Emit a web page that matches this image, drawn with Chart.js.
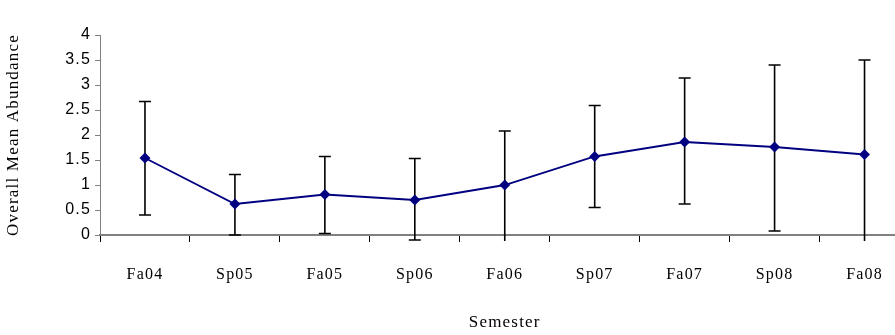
<!DOCTYPE html>
<html>
<head>
<meta charset="utf-8">
<script src="https://cdn.jsdelivr.net/npm/chart.js@4.4.1/dist/chart.umd.min.js"></script>
<style>
  html, body { margin: 0; padding: 0; overflow: hidden; background: #fff; }
  #wrap { width: 915px; height: 335px; }
</style>
</head>
<body>
<div id="wrap"><canvas id="chart-abundance" width="915" height="335"></canvas></div>
<script>
var semesters = ['Fa04', 'Sp05', 'Fa05', 'Sp06', 'Fa06', 'Sp07', 'Fa07', 'Sp08', 'Fa08'];
var meanAbundance = [1.54, 0.62, 0.81, 0.70, 1.00, 1.57, 1.86, 1.76, 1.61];
var errorHigh = [2.67, 1.21, 1.57, 1.53, 2.08, 2.59, 3.14, 3.40, 3.50];
var errorLow = [0.40, 0.00, 0.03, -0.10, -0.16, 0.55, 0.62, 0.08, -0.30];
var yTicks = ['0', '0.5', '1', '1.5', '2', '2.5', '3', '3.5', '4'];

// wider letter spacing, the original text is set in a loose serif
var spacing = {
  id: 'spacing',
  beforeInit: function (chart) {
    chart.ctx.letterSpacing = '1.2px';
  },
  beforeDraw: function (chart) {
    chart.ctx.letterSpacing = '1.2px';
  },
};

// error bars, drawn behind the markers; clipped a little below the x axis like the original
var errorBars = {
  id: 'errorBars',
  beforeDatasetsDraw: function (chart) {
    let x = chart.scales.x;
    let y = chart.scales.y;
    let clipY = y.getPixelForValue(-0.12);
    let ctx = chart.ctx;
    ctx.save();
    ctx.strokeStyle = '#000000';
    ctx.lineWidth = 1.6;
    semesters.forEach((s, i) => {
      let px = x.getPixelForValue(i);
      let top = y.getPixelForValue(errorHigh[i]);
      let bot = y.getPixelForValue(errorLow[i]);
      let capBot = bot <= clipY;
      if (!capBot) bot = clipY;
      ctx.beginPath();
      ctx.moveTo(px, top);
      ctx.lineTo(px, bot);
      ctx.moveTo(px - 6, top);
      ctx.lineTo(px + 6, top);
      if (capBot) {
        ctx.moveTo(px - 6, bot);
        ctx.lineTo(px + 6, bot);
      }
      ctx.stroke();
    });
    ctx.restore();
  },
};

var ctx = document.getElementById('chart-abundance').getContext('2d');
var chart = new Chart(ctx, {
  type: 'line',
  plugins: [spacing, errorBars],
  data: {
    labels: semesters,
    datasets: [
      {
        label: 'Overall Mean Abundance',
        data: meanAbundance,
        borderColor: '#000080',
        backgroundColor: '#000080',
        borderWidth: 1.8,
        pointStyle: 'rectRot',
        pointRadius: 5.5,
        pointBorderWidth: 0,
        tension: 0,
      },
    ],
  },
  options: {
    responsive: false,
    animation: false,
    layout: { padding: { top: 35, right: 3, bottom: 0, left: 0 } },
    plugins: {
      legend: { display: false },
      tooltip: { enabled: false },
    },
    scales: {
      x: {
        offset: true,
        grid: {
          offset: true,
          drawOnChartArea: false,
          tickLength: 7,
          tickColor: '#000000',
          tickWidth: 1,
        },
        border: { color: '#808080', width: 2 },
        ticks: {
          padding: 23,
          color: '#000000',
          font: { family: 'Liberation Serif', size: 16 },
          maxRotation: 0,
        },
        title: {
          display: true,
          text: 'Semester',
          color: '#000000',
          font: { family: 'Liberation Serif', size: 17 },
          padding: { top: 0, bottom: 2 },
        },
        afterFit: function (scale) {
          scale.height = 100;
        },
      },
      y: {
        min: 0,
        max: 4,
        grid: {
          drawOnChartArea: false,
          tickLength: 5,
          tickColor: '#808080',
        },
        border: { color: '#808080', width: 1 },
        ticks: {
          stepSize: 0.5,
          padding: 4,
          color: '#000000',
          font: { family: 'Liberation Sans', size: 16 },
          callback: function (value, index) {
            return yTicks[index];
          },
        },
        title: {
          display: true,
          text: 'Overall Mean Abundance',
          color: '#000000',
          font: { family: 'Liberation Serif', size: 17 },
          padding: { top: 3, bottom: 0 },
        },
        afterFit: function (scale) {
          scale.width = 100;
        },
      },
    },
  },
});
</script>
</body>
</html>
